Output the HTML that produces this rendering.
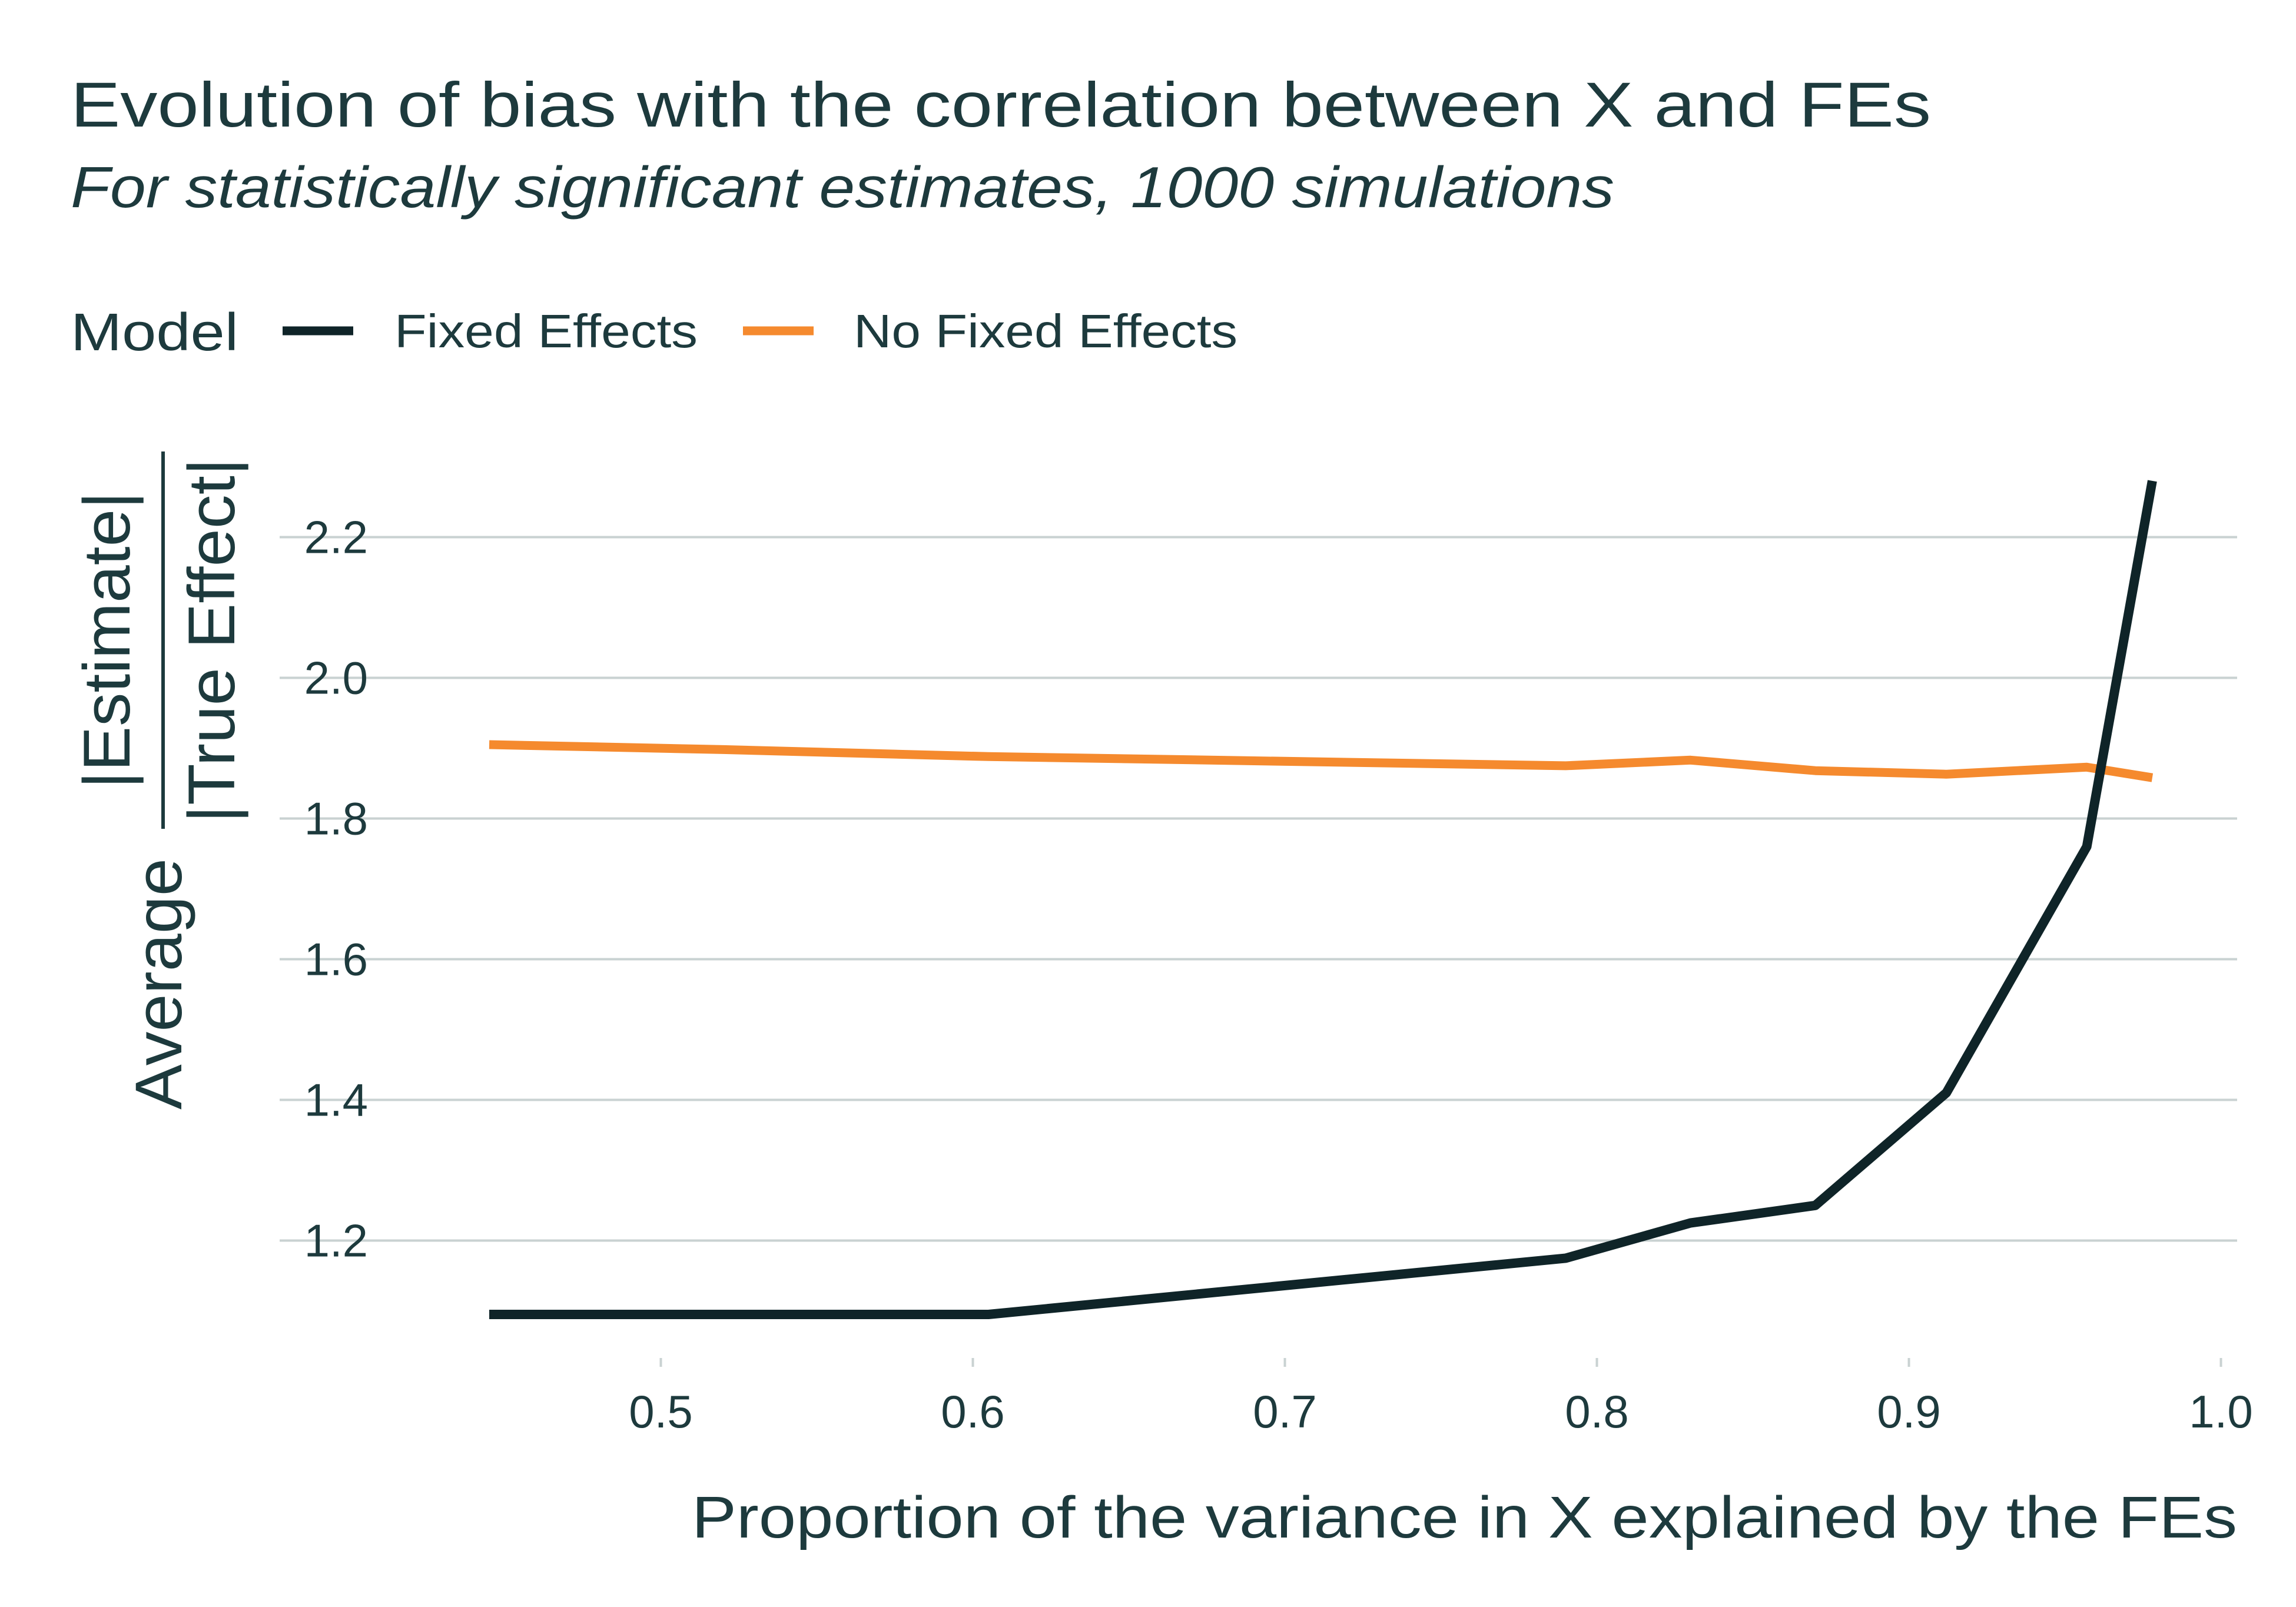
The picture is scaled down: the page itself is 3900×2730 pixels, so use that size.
<!DOCTYPE html>
<html><head><meta charset="utf-8"><style>
html,body{margin:0;padding:0;background:#fff;}
svg{display:block;font-family:"Liberation Sans",sans-serif;}
</style></head><body>
<svg id="chart" width="3900" height="2730" viewBox="0 0 3900 2730" xmlns="http://www.w3.org/2000/svg">
<rect width="3900" height="2730" fill="#ffffff"/>
<text x="120" y="215" font-size="108" fill="#1d3a3d" textLength="3160" lengthAdjust="spacingAndGlyphs">Evolution of bias with the correlation between X and FEs</text>
<text x="120" y="352" font-size="98" font-style="italic" fill="#1d3a3d" textLength="2622" lengthAdjust="spacingAndGlyphs">For statistically significant estimates, 1000 simulations</text>
<g>
<text x="120" y="595" font-size="90" fill="#1d3a3d" textLength="285" lengthAdjust="spacingAndGlyphs">Model</text>
<line x1="480" y1="562" x2="600" y2="562" stroke="#0f2428" stroke-width="15"/>
<text x="670" y="590" font-size="80" fill="#1d3a3d" textLength="515" lengthAdjust="spacingAndGlyphs">Fixed Effects</text>
<line x1="1262" y1="562" x2="1382" y2="562" stroke="#f58a2e" stroke-width="15"/>
<text x="1450" y="590" font-size="80" fill="#1d3a3d" textLength="652" lengthAdjust="spacingAndGlyphs">No Fixed Effects</text>
</g>
<g id="grid"></g>
<g id="yticks"></g>
<g id="xticks"></g>
<g id="series"></g>
<text x="3800" y="2612" font-size="100" fill="#1d3a3d" text-anchor="end" textLength="2625" lengthAdjust="spacingAndGlyphs">Proportion of the variance in X explained by the FEs</text>
<g>
<text transform="translate(308,1885) rotate(-90)" font-size="112" fill="#1d3a3d" textLength="427" lengthAdjust="spacingAndGlyphs">Average</text>
<text transform="translate(220,1340) rotate(-90)" font-size="112" fill="#1d3a3d" textLength="505" lengthAdjust="spacingAndGlyphs">|Estimate|</text>
<line x1="277" y1="767" x2="277" y2="1408" stroke="#1d3a3d" stroke-width="6"/>
<text transform="translate(398,1398) rotate(-90)" font-size="112" fill="#1d3a3d" textLength="620" lengthAdjust="spacingAndGlyphs">|True Effect|</text>
</g>
</svg>
<script>
const xValues = [0.445, 0.52, 0.605, 0.79, 0.83, 0.87, 0.912, 0.957, 0.978];
const fixedEffects = [1.095, 1.095, 1.095, 1.175, 1.225, 1.25, 1.41, 1.76, 2.28];
const noFixedEffects = [1.905, 1.898, 1.888, 1.875, 1.883, 1.868, 1.863, 1.873, 1.858];
const yTickValues = [1.2, 1.4, 1.6, 1.8, 2.0, 2.2];
const yTickLabels = ["1.2", "1.4", "1.6", "1.8", "2.0", "2.2"];
const xTickValues = [0.5, 0.6, 0.7, 0.8, 0.9, 1.0];
const xTickLabels = ["0.5", "0.6", "0.7", "0.8", "0.9", "1.0"];

const NS = "http://www.w3.org/2000/svg";
function xScale(v){ return 1122.5 + (v - 0.5) * 5300; }
function yScale(v){ return 2107.5 - (v - 1.2) * 1195; }
function mk(tag, attrs, parent){
  const el = document.createElementNS(NS, tag);
  for (const k in attrs) el.setAttribute(k, attrs[k]);
  parent.appendChild(el);
  return el;
}
const grid = document.getElementById('grid');
const yt = document.getElementById('yticks');
const xt = document.getElementById('xticks');
const series = document.getElementById('series');
yTickValues.forEach((v, i) => {
  const g = mk('line', {x1: 475, x2: 3800, y1: yScale(v), y2: yScale(v), stroke: '#c9d2d2', 'stroke-width': 4}, grid);
  
  
  const t = mk('text', {x: 625, y: yScale(v) + 27, 'font-size': 78, fill: '#1d3a3d', 'text-anchor': 'end'}, yt);
  t.textContent = yTickLabels[i];
  
  
});
xTickValues.forEach((v, i) => {
  const tk = mk('line', {x1: xScale(v), x2: xScale(v), y1: 2307, y2: 2322, stroke: '#c9d2d2', 'stroke-width': 4}, xt);
  
  
  const t = mk('text', {x: xScale(v), y: 2425, 'font-size': 78, fill: '#1d3a3d', 'text-anchor': 'middle'}, xt);
  t.textContent = xTickLabels[i];
  
  
});
function path(vals){ return vals.map((v, i) => (i ? 'L' : 'M') + xScale(xValues[i]).toFixed(1) + ',' + yScale(v).toFixed(1)).join(' '); }
const pNo = mk('path', {d: path(noFixedEffects), fill: 'none', stroke: '#f58a2e', 'stroke-width': 15, 'stroke-linejoin': 'round'}, series);


const pFe = mk('path', {d: path(fixedEffects), fill: 'none', stroke: '#0f2428', 'stroke-width': 16, 'stroke-linejoin': 'round'}, series);


</script>
</body></html>
